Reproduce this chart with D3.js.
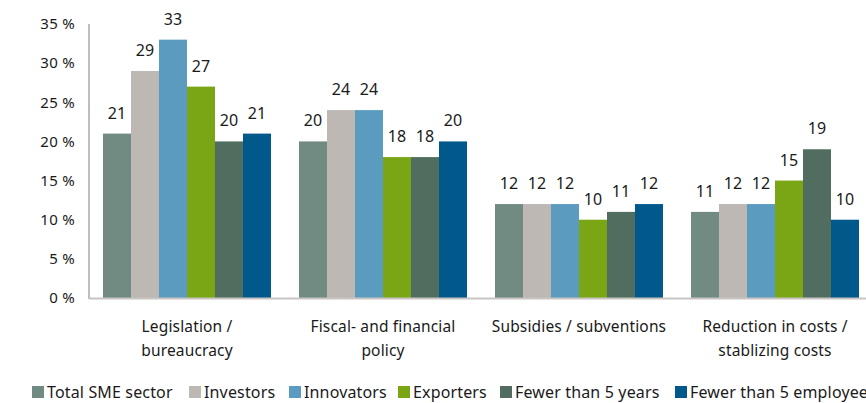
<!DOCTYPE html>
<html>
<head>
<meta charset="utf-8">
<script src="https://cdn.jsdelivr.net/npm/d3@7"></script>
<style>
  html, body { margin: 0; padding: 0; background: #fff; }
  svg { display: block; }
  text { font-family: "Noto Sans", "Liberation Sans", Arial, sans-serif; fill: #1a1a1a; }
</style>
</head>
<body>
<svg id="chart" width="866" height="403"></svg>
<script>
// Categories (each label split into lines)
const categories = [
  ["Legislation /", "bureaucracy"],
  ["Fiscal- and financial", "policy"],
  ["Subsidies / subventions"],
  ["Reduction in costs /", "stablizing costs"]
];
const seriesNames = ["Total SME sector", "Investors", "Innovators", "Exporters", "Fewer than 5 years", "Fewer than 5 employees"];
const seriesColors = ["#718b83", "#bdb8b4", "#5b9bc0", "#7aa515", "#506d5f", "#00588b"];

// Share of respondents (%) per series, one value per category
const totalSME   = [21, 20, 12, 11];
const investors  = [29, 24, 12, 12];
const innovators = [33, 24, 12, 12];
const exporters  = [27, 18, 10, 15];
const fewerYears = [20, 18, 11, 19];
const fewerEmpl  = [21, 20, 12, 10];
const seriesValues = [totalSME, investors, innovators, exporters, fewerYears, fewerEmpl];

const yTicks = [0, 5, 10, 15, 20, 25, 30, 35];

const svg = d3.select("#chart");
const plot = { left: 89, right: 873, top: 24, bottom: 298 };

const x0 = d3.scaleBand().domain(d3.range(categories.length)).range([plot.left, plot.right]).paddingInner(0).paddingOuter(0);
const x1 = d3.scaleBand().domain(d3.range(seriesNames.length))
  .range([x0.bandwidth() / 14, x0.bandwidth() * 13 / 14]).padding(0);
const y = d3.scaleLinear().domain([0, 35]).range([plot.bottom, plot.top]);

// Y axis labels
svg.append("g").selectAll("text").data(yTicks).join("text")
  .attr("x", 75).attr("y", d => y(d)).attr("dy", "0.35em")
  .attr("text-anchor", "end").attr("font-size", 15).attr("letter-spacing", 0.3)
  .text(d => d + " %");

// Bars
const groups = svg.append("g").selectAll("g").data(categories).join("g")
  .attr("transform", (d, i) => `translate(${x0(i)},0)`);

groups.selectAll("rect").data((d, i) => seriesValues.map((s, k) => ({ k, v: s[i] }))).join("rect")
  .attr("x", d => x1(d.k)).attr("width", x1.bandwidth())
  .attr("y", d => y(d.v)).attr("height", d => y(0) - y(d.v))
  .attr("fill", d => seriesColors[d.k]);

groups.selectAll("text.val").data((d, i) => seriesValues.map((s, k) => ({ k, v: s[i] }))).join("text")
  .attr("class", "val")
  .attr("x", d => x1(d.k) + x1.bandwidth() / 2).attr("y", d => y(d.v) - 15)
  .attr("text-anchor", "middle").attr("font-size", 16)
  .text(d => d.v);

// Axis lines
svg.append("line").attr("x1", plot.left).attr("x2", plot.left).attr("y1", plot.top).attr("y2", plot.bottom + 1)
  .attr("stroke", "#c0bcb8").attr("stroke-width", 2);
svg.append("line").attr("x1", plot.left).attr("x2", 866).attr("y1", plot.bottom + 0.5).attr("y2", plot.bottom + 0.5)
  .attr("stroke", "#c8c5c2").attr("stroke-width", 2);

// Category labels
groups.each(function(lines, i) {
  const t = d3.select(this).append("text")
    .attr("x", x0.bandwidth() / 2).attr("y", 332)
    .attr("text-anchor", "middle").attr("font-size", 15.5).attr("letter-spacing", 0.15);
  lines.forEach((ln, j) => t.append("tspan").attr("x", x0.bandwidth() / 2).attr("dy", j ? 24 : 0).text(ln));
});

// Legend
const legendX = [32, 189, 289, 398, 500, 675];
const legend = svg.append("g").selectAll("g").data(seriesNames).join("g")
  .attr("transform", (d, i) => `translate(${legendX[i]},386)`);
legend.append("rect").attr("width", 12).attr("height", 12).attr("fill", (d, i) => seriesColors[i]);
legend.append("text").attr("x", 15).attr("y", 11.5).attr("font-size", 16).attr("letter-spacing", 0.15).text(d => d);
</script>
</body>
</html>
